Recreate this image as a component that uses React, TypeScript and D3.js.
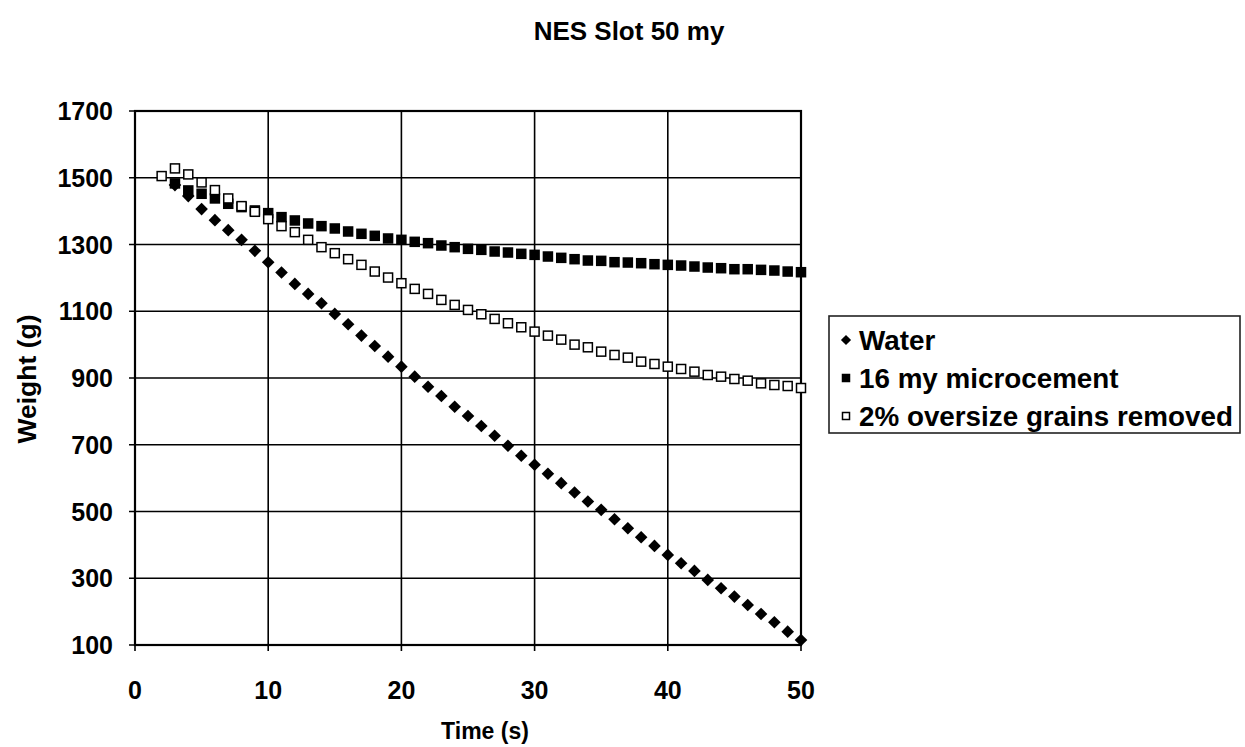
import React from "react";
import * as d3 from "d3";

const title = "NES Slot 50 my";
const xLabel = "Time (s)";
const yLabel = "Weight (g)";
const xTicks = [0, 10, 20, 30, 40, 50];
const yTicks = [100, 300, 500, 700, 900, 1100, 1300, 1500, 1700];

const timeA = [3, 4, 5, 6, 7, 8, 9, 10, 11, 12, 13, 14, 15, 16, 17, 18, 19, 20, 21, 22, 23, 24, 25, 26, 27, 28, 29, 30, 31, 32, 33, 34, 35, 36, 37, 38, 39, 40, 41, 42, 43, 44, 45, 46, 47, 48, 49, 50];
const timeB = [2, 3, 4, 5, 6, 7, 8, 9, 10, 11, 12, 13, 14, 15, 16, 17, 18, 19, 20, 21, 22, 23, 24, 25, 26, 27, 28, 29, 30, 31, 32, 33, 34, 35, 36, 37, 38, 39, 40, 41, 42, 43, 44, 45, 46, 47, 48, 49, 50];

const water = [1478, 1445, 1406, 1373, 1343, 1314, 1281, 1247, 1216, 1182, 1152, 1124, 1092, 1061, 1027, 996, 964, 934, 904, 874, 846, 814, 786, 756, 727, 697, 667, 640, 613, 585, 557, 530, 505, 477, 450, 423, 397, 370, 345, 322, 295, 270, 245, 220, 193, 168, 140, 115];
const microcement = [1483, 1462, 1452, 1438, 1422, 1412, 1402, 1394, 1382, 1372, 1363, 1355, 1348, 1339, 1332, 1326, 1318, 1314, 1308, 1304, 1297, 1292, 1287, 1284, 1279, 1276, 1272, 1269, 1264, 1260, 1256, 1252, 1251, 1247, 1246, 1244, 1241, 1239, 1237, 1234, 1231, 1229, 1226, 1226, 1224, 1222, 1219, 1217];
const oversize = [1505, 1528, 1510, 1486, 1463, 1438, 1415, 1398, 1376, 1355, 1337, 1314, 1292, 1274, 1256, 1239, 1219, 1201, 1184, 1167, 1152, 1134, 1119, 1104, 1091, 1077, 1064, 1052, 1039, 1027, 1015, 1000, 992, 979, 969, 961, 949, 942, 934, 927, 919, 909, 904, 897, 892, 884, 879, 876, 870];

const legendLabels = ["Water", "16 my microcement", "2% oversize grains removed"];

const FONT = "'Liberation Sans', Arial, Helvetica, sans-serif";

function Marker({ kind, x, y, s }: { kind: string; x: number; y: number; s: number }) {
  if (kind === "diamond") {
    const r = s * 0.6;
    return <path d={`M${x},${y - r}L${x + r},${y}L${x},${y + r}L${x - r},${y}Z`} fill="#000" />;
  }
  if (kind === "filled") {
    return <rect x={x - s / 2} y={y - s / 2} width={s} height={s} fill="#000" />;
  }
  return <rect x={x - s / 2 + 0.75} y={y - s / 2 + 0.75} width={s - 1.5} height={s - 1.5} fill="#fff" stroke="#000" strokeWidth={1.5} />;
}

export default function App() {
  const W = 1245, H = 747;
  const left = 135, right = 801, top = 111, bottom = 645;
  const x = d3.scaleLinear().domain([0, 50]).range([left, right]);
  const y = d3.scaleLinear().domain([100, 1700]).range([bottom, top]);

  const series = [
    { kind: "filled", t: timeA, v: microcement },
    { kind: "open", t: timeB, v: oversize },
    { kind: "diamond", t: timeA, v: water },
  ];

  const legX = 829, legY = 316, legW = 411, legH = 117;

  return (
    <svg width={W} height={H} style={{ position: "absolute", left: 0, top: 0, background: "#fff" }} fontFamily={FONT}>
      <rect x={0} y={0} width={W} height={H} fill="#fff" />
      <text x={629} y={40} textAnchor="middle" fontSize={26} fontWeight="bold">{title}</text>

      {/* grid */}
      {xTicks.map((t) => (
        <line key={"gx" + t} x1={x(t)} x2={x(t)} y1={top} y2={bottom + 6} stroke="#000" strokeWidth={1.6} />
      ))}
      {yTicks.map((v) => (
        <line key={"gy" + v} x1={left - 6} x2={right} y1={y(v)} y2={y(v)} stroke="#000" strokeWidth={1.6} />
      ))}
      <rect x={left} y={top} width={right - left} height={bottom - top} fill="none" stroke="#000" strokeWidth={2.2} />

      {/* tick labels */}
      {yTicks.map((v) => (
        <text key={"ly" + v} x={113} y={y(v)} dy="0.36em" textAnchor="end" fontSize={25} fontWeight="bold">{v}</text>
      ))}
      {xTicks.map((t) => (
        <text key={"lx" + t} x={x(t)} y={699} textAnchor="middle" fontSize={25} fontWeight="bold">{t}</text>
      ))}
      <text x={485} y={739} textAnchor="middle" fontSize={23} fontWeight="bold">{xLabel}</text>
      <text transform={`translate(36,${379}) rotate(-90)`} textAnchor="middle" fontSize={26.5} fontWeight="bold">{yLabel}</text>

      {/* points */}
      {series.map((s, si) => (
        <g key={si}>
          {s.v.map((v, i) => (
            <Marker key={i} kind={s.kind} x={x(s.t[i])} y={y(v)} s={10.5} />
          ))}
        </g>
      ))}

      {/* legend */}
      <rect x={legX} y={legY} width={legW} height={legH} fill="#fff" stroke="#222" strokeWidth={1.6} />
      {legendLabels.map((lab, i) => {
        const cy = 340 + i * 38;
        const kind = ["diamond", "filled", "open"][i];
        return (
          <g key={lab}>
            <Marker kind={kind} x={846} y={cy} s={8.5} />
            <text x={859} y={cy} dy="0.36em" fontSize={27.8} fontWeight="bold">{lab}</text>
          </g>
        );
      })}
    </svg>
  );
}
